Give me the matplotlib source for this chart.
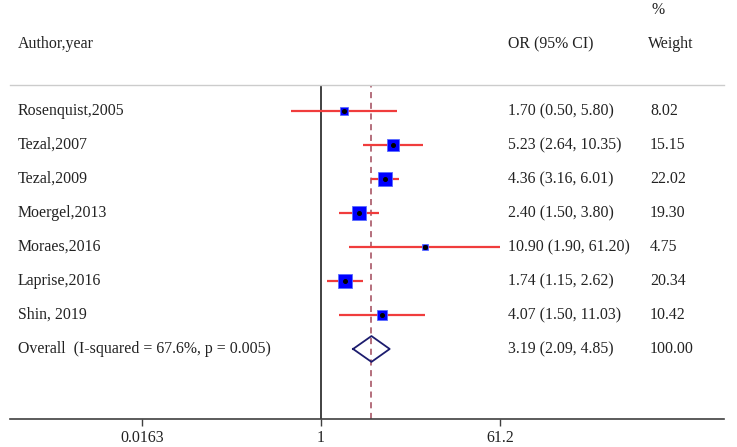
import numpy as np
import matplotlib.pyplot as plt
import matplotlib.transforms as mtransforms

# Study data
studies = ['Rosenquist,2005', 'Tezal,2007', 'Tezal,2009', 'Moergel,2013',
           'Moraes,2016', 'Laprise,2016', 'Shin, 2019']
odds = [1.70, 5.23, 4.36, 2.40, 10.90, 1.74, 4.07]
lower = [0.50, 2.64, 3.16, 1.50, 1.90, 1.15, 1.50]
upper = [5.80, 10.35, 6.01, 3.80, 61.20, 2.62, 11.03]
weights = [8.02, 15.15, 22.02, 19.30, 4.75, 20.34, 10.42]

overall_label = 'Overall  (I-squared = 67.6%, p = 0.005)'
overall_or = 3.19
overall_lo = 2.09
overall_hi = 4.85
overall_weight = 100.00

tick_values = [0.0163, 1, 61.2]
tick_labels = ['0.0163', '1', '61.2']

plt.rcParams['font.family'] = ['Liberation Serif', 'DejaVu Serif']
txt_color = '#222222'
fs = 11.4

fig = plt.figure(figsize=(7.37, 4.47), dpi=100)
W, H = 737, 447
ax = fig.add_axes([10 / W, (H - 419) / H, 714 / W, (419 - 85) / H])

ax.set_xscale('log')
ax.set_xlim(np.exp(-7.149), np.exp(9.264))
ax.set_ylim(9.06, -0.765)

rows = np.arange(len(studies))

# reference line at 1 and dashed line at overall estimate
ax.axvline(1, color='#333333', lw=1.3, zorder=1)
ax.axvline(overall_or, color='#a04858', lw=1.1, ls=(0, (4, 3)), zorder=1)

# CI lines and weighted squares
for i in rows:
    ax.plot([lower[i], upper[i]], [i, i], color='#f03c3c', lw=1.6,
            solid_capstyle='butt', zorder=2)
    ax.plot(odds[i], i, marker='s', ms=2.16 * np.sqrt(weights[i]),
            mfc='#0000ff', mec='#5a6cff', mew=0.6, ls='none', zorder=3)
    ax.plot(odds[i], i, marker='o', ms=2.6, color='black', ls='none', zorder=4)

# overall diamond
yo = len(studies)
dx = [overall_lo, overall_or, overall_hi, overall_or, overall_lo]
dy = [yo, yo - 0.38, yo, yo + 0.38, yo]
ax.plot(dx, dy, color='#1c1c6e', lw=1.3, zorder=3)

# axes styling
for s in ['left', 'right']:
    ax.spines[s].set_visible(False)
ax.spines['top'].set_color('#cccccc')
ax.spines['top'].set_linewidth(1.0)
ax.spines['bottom'].set_color('#404040')
ax.spines['bottom'].set_linewidth(1.2)
ax.set_yticks([])
ax.set_xticks(tick_values)
ax.set_xticklabels(tick_labels)
ax.minorticks_off()
ax.tick_params(axis='x', direction='out', length=5, width=1, color='#404040',
               labelsize=fs, labelcolor=txt_color, pad=3)

# text columns
trans = mtransforms.blended_transform_factory(ax.transAxes, ax.transData)
x_lab = (18 - 10) / 714
x_or = (508 - 10) / 714
x_wt = (650 - 10) / 714

for i in rows:
    ax.text(x_lab, i, studies[i], transform=trans, va='center', ha='left',
            fontsize=fs, color=txt_color)
    ax.text(x_or, i, '%.2f (%.2f, %.2f)' % (odds[i], lower[i], upper[i]),
            transform=trans, va='center', ha='left', fontsize=fs, color=txt_color)
    ax.text(x_wt, i, '%.2f' % weights[i], transform=trans, va='center',
            ha='left', fontsize=fs, color=txt_color)

ax.text(x_lab, yo, overall_label, transform=trans, va='center', ha='left',
        fontsize=fs, color=txt_color)
ax.text(x_or, yo, '%.2f (%.2f, %.2f)' % (overall_or, overall_lo, overall_hi),
        transform=trans, va='center', ha='left', fontsize=fs, color=txt_color)
ax.text(x_wt, yo, '%.2f' % overall_weight, transform=trans, va='center',
        ha='left', fontsize=fs, color=txt_color)

# headers
y_head = (44 - 111) / 34
y_pct = (10 - 111) / 34
ax.text(x_lab, y_head, 'Author,year', transform=trans, va='center', ha='left',
        fontsize=fs, color=txt_color, clip_on=False)
ax.text(x_or, y_head, 'OR (95% CI)', transform=trans, va='center', ha='left',
        fontsize=fs, color=txt_color, clip_on=False)
ax.text((648 - 10) / 714, y_head, 'Weight', transform=trans, va='center',
        ha='left', fontsize=fs, color=txt_color, clip_on=False)
ax.text((651 - 10) / 714, y_pct, '%', transform=trans, va='center', ha='left',
        fontsize=fs, color=txt_color, clip_on=False)

fig.savefig('out.png', dpi=100)
